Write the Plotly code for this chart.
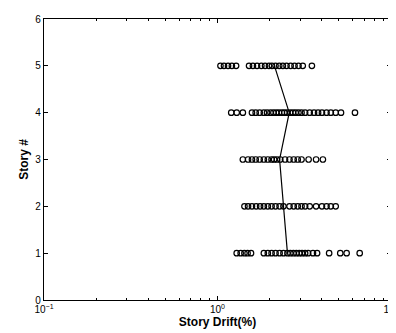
import plotly.graph_objects as go

stories = [1, 2, 3, 4, 5]
story1 = [1.29, 1.36, 1.43, 1.49, 1.56, 1.85, 1.95, 2.05, 2.16, 2.28, 2.40, 2.53, 2.63, 2.74, 2.85, 2.96, 3.07, 3.20, 3.33, 3.55, 3.75, 4.40, 5.10, 5.55, 6.60]
story2 = [1.43, 1.50, 1.58, 1.67, 1.76, 1.85, 1.95, 2.05, 2.16, 2.28, 2.40, 2.60, 2.75, 2.90, 3.05, 3.20, 3.40, 3.70, 4.00, 4.25, 4.50, 4.80]
story3 = [1.40, 1.50, 1.58, 1.66, 1.75, 1.85, 1.95, 2.05, 2.12, 2.20, 2.30, 2.45, 2.60, 2.75, 2.90, 3.05, 3.35, 3.70, 4.05]
story4 = [1.20, 1.29, 1.40, 1.58, 1.66, 1.75, 1.85, 1.93, 2.02, 2.10, 2.18, 2.26, 2.35, 2.43, 2.52, 2.62, 2.72, 2.82, 2.93, 3.05, 3.20, 3.40, 3.60, 3.80, 4.00, 4.25, 4.50, 4.80, 5.15, 6.20]
story5 = [1.04, 1.09, 1.15, 1.21, 1.28, 1.52, 1.60, 1.69, 1.79, 1.88, 1.98, 2.06, 2.16, 2.27, 2.38, 2.50, 2.64, 2.78, 2.93, 3.10, 3.50]
median_drift = [2.53, 2.40, 2.28, 2.59, 2.13]

all_series = [story1, story2, story3, story4, story5]

fig = go.Figure()
for s, vals in zip(stories, all_series):
    fig.add_trace(go.Scatter(
        x=vals, y=[s] * len(vals), mode="markers",
        marker=dict(symbol="circle-open", size=5.5, color="black", line=dict(width=1.2)),
        showlegend=False, hoverinfo="skip"))

fig.add_trace(go.Scatter(
    x=median_drift, y=stories, mode="lines",
    line=dict(color="black", width=1.2), showlegend=False))

axis_font = dict(family="Liberation Sans, Arial, sans-serif", size=10, color="black")
fig.update_layout(
    width=396, height=333,
    margin=dict(l=36, r=5, t=9, b=41),
    paper_bgcolor="white", plot_bgcolor="white",
    font=axis_font,
)
fig.update_xaxes(
    type="log", range=[-1, 1], tickvals=[0.1, 1, 10],
    ticktext=["10<sup>−1</sup>", "10<sup>0</sup>", "10<sup>1</sup>"],
    ticklabeloverflow="allow",
    ticks="inside", ticklen=4, tickcolor="black", tickwidth=1,
    minor=dict(ticks="inside", ticklen=2, tickcolor="black",
               tickvals=[0.2, 0.3, 0.4, 0.5, 0.6, 0.7, 0.8, 0.9, 2, 3, 4, 5, 6, 7, 8, 9]),
    showgrid=False, zeroline=False,
    showline=True, linecolor="black", linewidth=1.2, mirror="ticks",
    title=dict(text="<b>Story Drift(%)</b>", font=dict(family="Liberation Sans, Arial, sans-serif", size=12, color="black"), standoff=2),
    tickfont=axis_font,
)
fig.update_yaxes(
    range=[0, 6], tickvals=[0, 1, 2, 3, 4, 5, 6],
    ticks="inside", ticklen=4, tickcolor="black", tickwidth=1,
    showgrid=False, zeroline=False,
    showline=True, linecolor="black", linewidth=1.2, mirror="ticks",
    title=dict(text="<b>Story #</b>", font=dict(family="Liberation Sans, Arial, sans-serif", size=12, color="black"), standoff=4),
    tickfont=axis_font,
)

fig.write_html("out.html")
